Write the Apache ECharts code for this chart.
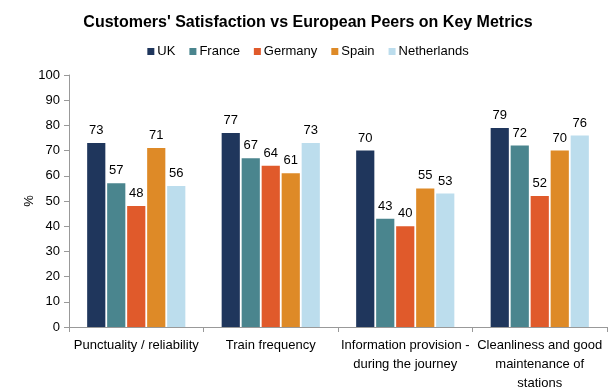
<!DOCTYPE html>
<html><head><meta charset="utf-8">
<script src="https://cdn.jsdelivr.net/npm/echarts@6/dist/echarts.min.js"></script>
<style>html,body{margin:0;padding:0;background:#fff}#c{width:616px;height:391px}</style>
</head><body><div id="c"></div>
<script>
var categories = ['Punctuality / reliability', 'Train frequency', 'Information provision -\nduring the journey', 'Cleanliness and good\nmaintenance of\nstations'];
var seriesNames = ['UK', 'France', 'Germany', 'Spain', 'Netherlands'];
var uk = [73, 77, 70, 79];
var france = [57, 67, 43, 72];
var germany = [48, 64, 40, 52];
var spain = [71, 61, 55, 70];
var netherlands = [56, 73, 53, 76];
var yTicks = {min: 0, max: 100, interval: 10};
var colors = ['#1F365C', '#4A858E', '#E05A2B', '#DE8A27', '#BCDDED'];
var values = [uk, france, germany, spain, netherlands];
var font = 'Liberation Sans, Arial, sans-serif';

var chart = echarts.init(document.getElementById('c'));
chart.setOption({
  animation: false,
  title: {text: "Customers' Satisfaction vs European Peers on Key Metrics", left: 'center', top: 10,
    textStyle: {fontFamily: font, fontSize: 16, fontWeight: 'bold', color: '#000'}},
  legend: {top: 40, left: 'center', itemWidth: 7, itemHeight: 7, itemGap: 14, icon: 'rect',
    textStyle: {fontFamily: font, fontSize: 13, color: '#000', padding: [0,0,0,-2]}},
  grid: {left: 69, right: 9, top: 75, bottom: 64, containLabel: false, outerBoundsMode: 'none'},
  xAxis: {type: 'category', data: categories,
    axisLine: {lineStyle: {color: '#999'}},
    axisTick: {show: true, length: 5, lineStyle: {color: '#999'}},
    axisLabel: {fontFamily: font, fontSize: 13, color: '#000', lineHeight: 19, margin: 9, interval: 0}},
  yAxis: {type: 'value', min: yTicks.min, max: yTicks.max, interval: yTicks.interval,
    name: '%', nameLocation: 'middle', nameGap: 33, nameRotate: 90, nameMoveOverlap: false,
    nameTextStyle: {fontFamily: font, fontSize: 13, color: '#000'},
    axisLine: {show: true, lineStyle: {color: '#999'}},
    axisTick: {show: true, length: 5, lineStyle: {color: '#999'}},
    splitLine: {show: false},
    axisLabel: {fontFamily: font, fontSize: 13, color: '#000', margin: 9}},
  series: seriesNames.map(function (n, i) {
    return {name: n, type: 'bar', data: values[i], barGap: '10%', barCategoryGap: '27%',
      itemStyle: {color: colors[i]},
      label: {show: true, position: 'top', distance: 6, fontFamily: font, fontSize: 13, color: '#000'}};
  })
});
</script></body></html>
